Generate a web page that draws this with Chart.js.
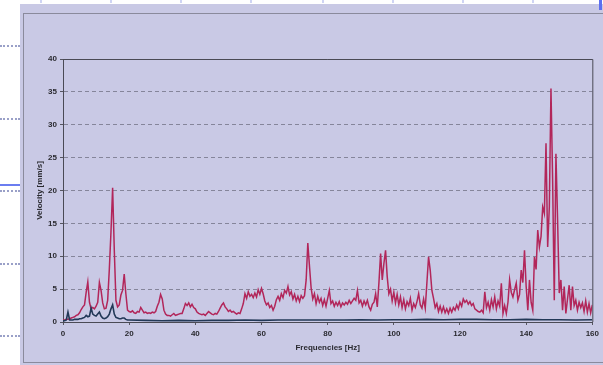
<!DOCTYPE html>
<html>
<head>
<meta charset="utf-8">
<script src="https://cdn.jsdelivr.net/npm/chart.js@4"></script>
<style>
  html, body { margin: 0; padding: 0; background: #fff; }
  #wrap { position: relative; width: 603px; height: 365px; overflow: hidden; }
  #panel { position: absolute; left: 20px; top: 4px; width: 583px; height: 361px; background: #c9c9e5; }
  #frame { position: absolute; left: 23px; top: 13px; width: 600px; height: 348px; border: 1px solid #8a8a9c; }
  .dots { position: absolute; left: 0; width: 20px; border-top: 2px dotted #9aa0c8; }
  .mark { position: absolute; top: 0; width: 2px; height: 3px; background: #cfd4f4; }
  #blueline { position: absolute; left: 0; top: 184px; width: 20px; height: 2px; background: #6b7df0; }
  canvas { position: absolute; left: 0; top: 0; }
</style>
</head>
<body>
<div id="wrap">
  <div id="panel"></div>
  <div id="frame"></div>
  <div class="dots" style="top:45px"></div>
  <div class="dots" style="top:118px"></div>
  <div class="dots" style="top:190px"></div>
  <div class="dots" style="top:263px"></div>
  <div class="dots" style="top:335px"></div>
  <div id="blueline"></div>
  <div class="mark" style="left:40px"></div>
  <div class="mark" style="left:110px"></div>
  <div class="mark" style="left:180px"></div>
  <div class="mark" style="left:250px"></div>
  <div class="mark" style="left:322px"></div>
  <div class="mark" style="left:392px"></div>
  <div class="mark" style="left:462px"></div>
  <div class="mark" style="left:532px"></div>
  <div class="mark" style="left:599px;width:3px;height:10px;background:#5d6ff0"></div>
  <canvas id="grafik" width="603" height="365"></canvas>
</div>
<script>
// red trace, one value every 0.5 Hz from 0 to 160 Hz
const RED_STEP_HZ = 0.5;
const redVelocity = [
  // 0 - 10 Hz
  0.3, 0.3, 0.4, 0.4, 0.5, 0.6, 0.7, 0.8, 1.0, 1.1, 1.4, 1.9, 2.3, 2.6, 4.5, 6.1, 3.0, 2.0, 2.2, 2.0,
  // 10 - 20
  2.4, 3.0, 6.0, 4.8, 2.9, 2.0, 2.1, 3.3, 8.0, 13.7, 20.4, 11.0, 3.3, 2.3, 2.6, 4.1, 4.8, 7.3, 4.3, 1.8,
  // 20 - 30
  1.6, 1.5, 1.7, 1.4, 1.3, 1.6, 1.5, 2.2, 1.8, 1.4, 1.5, 1.3, 1.4, 1.3, 1.5, 1.4, 1.6, 2.4, 3.0, 4.2,
  // 30 - 40
  3.5, 1.8, 1.2, 1.0, 1.0, 0.9, 1.1, 1.3, 1.0, 1.1, 1.2, 1.3, 1.3, 2.0, 2.8, 2.5, 2.9, 2.3, 2.7, 2.2,
  // 40 - 50
  2.0, 1.5, 1.3, 1.2, 1.1, 1.2, 1.0, 1.3, 1.6, 1.4, 1.2, 1.1, 1.3, 1.2, 1.6, 2.1, 2.6, 2.9, 2.3, 2.0,
  // 50 - 60
  1.6, 1.8, 1.5, 1.6, 1.4, 1.2, 1.4, 1.3, 2.0, 2.8, 4.3, 3.6, 4.6, 3.9, 4.2, 3.7, 4.4, 3.8, 4.9, 4.2,
  // 60 - 70
  5.1, 4.3, 3.2, 2.6, 2.9, 2.2, 2.5, 1.8, 2.4, 3.4, 3.9, 3.3, 4.3, 3.7, 4.8, 4.4, 5.4, 4.1, 4.6, 3.5,
  // 70 - 80
  4.2, 3.2, 3.9, 3.1, 4.0, 3.6, 4.0, 6.4, 12.0, 8.5, 5.2, 3.5, 4.3, 2.8, 3.9, 3.0, 3.6, 2.5, 3.4, 2.4,
  // 80 - 90
  3.6, 4.8, 2.8, 3.2, 2.4, 3.0, 2.5, 3.1, 2.3, 2.9, 2.6, 3.0, 2.7, 3.3, 2.8, 3.2, 3.6, 3.3, 4.8, 2.9,
  // 90 - 100
  3.3, 2.4, 3.2, 2.6, 3.3, 2.3, 1.8, 2.7, 3.0, 4.3, 2.3, 6.0, 10.4, 6.4, 8.9, 10.9, 6.9, 4.3, 5.0, 3.2,
  // 100 - 110
  4.5, 2.9, 4.2, 2.6, 3.8, 2.2, 3.4, 2.0, 3.1, 2.5, 3.6, 1.8, 2.8, 2.2, 3.1, 4.3, 2.6, 2.1, 3.5, 2.1,
  // 110 - 120
  6.0, 9.9, 7.9, 4.8, 3.6, 2.2, 2.8, 1.6, 2.4, 1.5, 2.3, 1.4, 2.0, 1.3, 2.1, 1.5, 2.2, 1.8, 2.6, 2.0,
  // 120 - 130
  3.0, 2.4, 3.5, 3.0, 3.3, 2.7, 3.1, 2.5, 2.8, 2.0, 1.8, 1.6, 1.5, 1.8, 1.4, 4.6, 2.2, 3.0, 1.8, 3.4,
  // 130 - 140
  2.3, 3.8, 2.0, 3.2, 2.4, 5.9, 1.3, 2.5, 1.3, 3.0, 6.4, 4.5, 3.8, 4.9, 5.9, 3.3, 4.2, 7.9, 6.0, 10.9,
  // 140 - 150
  5.4, 1.8, 6.4, 3.0, 1.8, 9.9, 8.0, 14.0, 11.4, 13.0, 17.5, 16.5, 27.2, 11.4, 17.5, 35.5, 21.6, 3.3, 25.6, 15.5,
  // 150 - 160
  4.4, 6.4, 1.8, 5.4, 1.3, 3.5, 5.6, 1.8, 5.4, 2.5, 3.3, 1.8, 3.0, 2.2, 2.9, 1.6, 3.2, 1.5, 2.8, 1.4,
  2.6
];

// dark blue trace
const blueHz = [
  0, 0.5, 1, 1.5, 2, 2.5, 3, 3.5, 4, 4.5, 5, 5.5, 6, 6.5, 7, 7.5, 8, 8.5, 9, 9.5,
  10, 10.5, 11, 11.5, 12, 12.5, 13, 13.5, 14, 14.5, 15, 15.5, 16, 16.5, 17, 17.5, 18, 18.5, 19, 19.5, 20,
  25, 30, 35, 40, 45, 50, 55, 60, 65, 70, 75, 80, 85, 90, 95, 100,
  105, 110, 115, 120, 125, 130, 135, 140, 145, 150, 155, 160
];
const blueVelocity = [
  0.2, 0.2, 0.3, 1.5, 0.3, 0.3, 0.3, 0.4, 0.4, 0.4, 0.5, 0.5, 0.6, 0.7, 1.0, 0.8, 0.9, 2.1, 1.2, 1.0,
  0.9, 1.2, 1.5, 0.9, 0.6, 0.5, 0.6, 0.8, 1.2, 2.0, 2.6, 1.2, 0.7, 0.6, 0.5, 0.5, 0.6, 0.6, 0.4, 0.3, 0.3,
  0.25, 0.2, 0.25, 0.2, 0.25, 0.25, 0.3, 0.25, 0.3, 0.3, 0.3, 0.3, 0.3, 0.35, 0.3, 0.35,
  0.35, 0.4, 0.35, 0.4, 0.4, 0.35, 0.35, 0.4, 0.35, 0.35, 0.3, 0.35
];

const xTicks = [0, 20, 40, 60, 80, 100, 120, 140, 160];
const yTicks = [0, 5, 10, 15, 20, 25, 30, 35, 40];

const yazi = { family: "'Liberation Sans', Arial, sans-serif", size: 8, weight: "bold" };

const cerceve = {
  id: "cerceve",
  afterDraw(chart) {
    const { ctx, chartArea: a } = chart;
    ctx.save();
    ctx.strokeStyle = "#4a4a55";
    ctx.lineWidth = 1;
    ctx.beginPath();
    ctx.moveTo(a.left, a.top + 0.5);
    ctx.lineTo(a.right + 0.5, a.top + 0.5);
    ctx.lineTo(a.right + 0.5, a.bottom);
    ctx.stroke();
    ctx.restore();
  }
};

new Chart(document.getElementById("grafik"), {
  type: "line",
  data: {
    datasets: [
      {
        label: "blue",
        data: blueHz.map((hz, i) => ({ x: hz, y: blueVelocity[i] })),
        borderColor: "#223857",
        borderWidth: 1.6,
        pointRadius: 0,
        tension: 0
      },
      {
        label: "red",
        data: redVelocity.map((v, i) => ({ x: i * RED_STEP_HZ, y: v })),
        borderColor: "#b2265a",
        borderWidth: 1.5,
        pointRadius: 0,
        tension: 0
      }
    ]
  },
  options: {
    responsive: false,
    animation: false,
    layout: { padding: { left: 23, top: 59, right: 9, bottom: 5 } },
    plugins: {
      legend: { display: false },
      tooltip: { enabled: false }
    },
    scales: {
      x: {
        type: "linear",
        min: 0,
        max: 160,
        afterBuildTicks: (s) => { s.ticks = xTicks.map((v) => ({ value: v })); },
        afterFit: (s) => { s.height = 38; },
        ticks: { color: "#2a2a30", font: yazi, padding: 4, maxRotation: 0 },
        grid: { drawOnChartArea: false, tickLength: 3, color: "#555560" },
        border: { color: "#4a4a55", width: 1 },
        title: { display: true, text: "Frequencies [Hz]", color: "#2a2a30", font: yazi, padding: { top: 0, bottom: 7 } }
      },
      y: {
        min: 0,
        max: 40,
        afterBuildTicks: (s) => { s.ticks = yTicks.map((v) => ({ value: v })); },
        afterFit: (s) => { s.width = 40; },
        ticks: { color: "#2a2a30", font: yazi, padding: 3 },
        grid: {
          tickLength: 3,
          color: (c) => (c.tick && (c.tick.value === 0 || c.tick.value === 40) ? "rgba(0,0,0,0)" : "#85859a"),
          tickColor: "#555560",
          lineWidth: 1
        },
        border: { color: "#4a4a55", width: 1, dash: [4, 3] },
        title: { display: true, text: "Velocity [mm/s]", color: "#2a2a30", font: yazi, padding: { top: 12, bottom: 0 } }
      }
    }
  },
  plugins: [cerceve]
});
</script>
</body>
</html>
